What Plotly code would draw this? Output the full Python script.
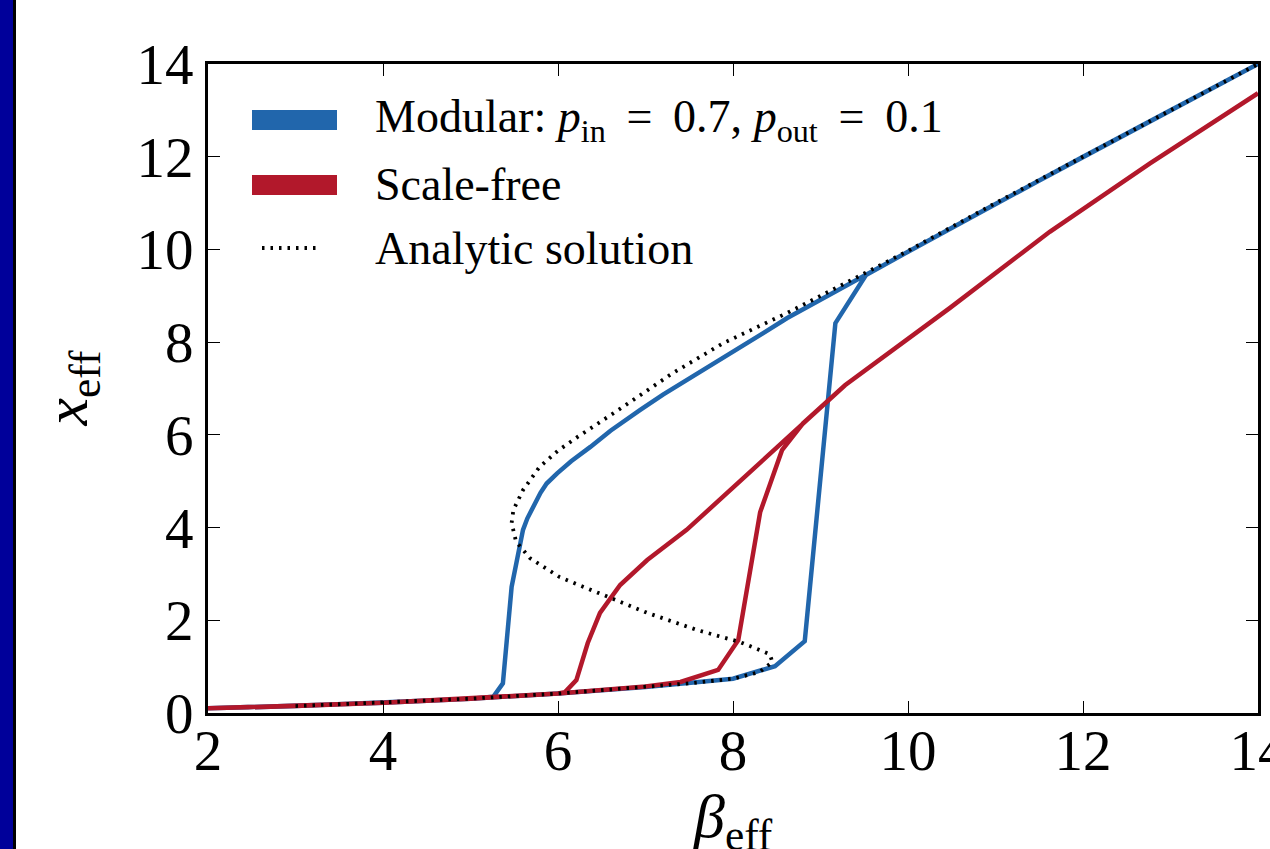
import plotly.graph_objects as go

# ---- data ----
# Modular network: forward sweep (increasing beta) then backward sweep
mod_fwd_beta = [2.0, 3.0, 4.0, 5.0, 6.0, 7.0, 7.5, 8.0, 8.48, 8.82, 9.17, 9.52, 10.0, 11.0, 12.0, 13.0, 14.0]
mod_fwd_x = [0.10, 0.15, 0.22, 0.31, 0.42, 0.56, 0.64, 0.74, 1.01, 1.55, 8.41, 9.45, 9.95, 10.98, 12.0, 13.0, 14.0]
mod_bwd_beta = [14.0, 13.0, 12.0, 11.0, 10.0, 9.52, 9.0, 8.62, 8.35, 8.08, 7.8, 7.51, 7.2, 6.94, 6.6, 6.37,
                6.15, 5.99, 5.87, 5.8, 5.71, 5.65, 5.6, 5.47, 5.37, 5.26, 5.0, 4.0, 3.0, 2.0]
mod_bwd_x = [14.0, 13.0, 12.0, 10.98, 9.95, 9.45, 8.9, 8.52, 8.2, 7.89, 7.58, 7.25, 6.87, 6.54, 6.09, 5.74,
             5.43, 5.17, 4.95, 4.75, 4.44, 4.2, 3.95, 2.72, 0.64, 0.35, 0.31, 0.22, 0.15, 0.10]

# Scale-free network
sf_fwd_beta = [2.0, 3.0, 4.0, 5.0, 6.0, 7.0, 7.4, 7.83, 8.06, 8.31, 8.56, 8.8, 9.28, 10.48, 11.62, 12.77, 14.0]
sf_fwd_x = [0.10, 0.15, 0.22, 0.31, 0.42, 0.57, 0.67, 0.93, 1.57, 4.33, 5.67, 6.25, 7.07, 8.74, 10.38, 11.86, 13.37]
sf_bwd_beta = [14.0, 12.77, 11.62, 10.48, 9.28, 8.8, 8.46, 8.0, 7.47, 7.02, 6.71, 6.48, 6.34, 6.21, 6.08, 6.0, 5.0, 4.0, 3.0, 2.0]
sf_bwd_x = [13.37, 11.86, 10.38, 8.74, 7.07, 6.25, 5.66, 4.87, 3.95, 3.30, 2.76, 2.16, 1.51, 0.71, 0.45, 0.42, 0.31, 0.22, 0.15, 0.10]

# Analytic solution (stable lower, unstable middle, stable upper branch)
an_beta = [3.0, 4.0, 5.0, 6.0, 7.0, 7.5, 8.0, 8.3, 8.45, 8.42, 8.08, 7.59, 7.02, 6.45, 6.02, 5.68,
           5.52, 5.47, 5.49, 5.6, 5.79, 6.0, 6.22, 6.74, 7.31, 7.89, 8.62, 9.52, 10.0, 11.0, 12.0, 13.0, 14.0]
an_x = [0.15, 0.22, 0.31, 0.42, 0.56, 0.64, 0.74, 0.88, 1.1, 1.27, 1.53, 1.79, 2.16, 2.59, 2.93, 3.34,
        3.7, 4.1, 4.38, 4.81, 5.31, 5.66, 5.95, 6.6, 7.33, 7.98, 8.63, 9.5, 9.97, 11.0, 12.0, 13.0, 14.0]

x_ticks = [2, 4, 6, 8, 10, 12, 14]
y_ticks = [0, 2, 4, 6, 8, 10, 12, 14]

SP = "\u2009"
legend_labels = ["Modular: <i>p</i><sub>in</sub> " + SP + "=" + SP + " 0.7, <i>p</i><sub>out</sub> " + SP + "=" + SP + " 0.1",
                 "Scale-free", "Analytic solution"]

BLUE = "#2166ac"
RED = "#b2182b"
FONT = "Liberation Serif"

fig = go.Figure()
fig.add_trace(go.Scatter(x=mod_fwd_beta + mod_bwd_beta, y=mod_fwd_x + mod_bwd_x, mode="lines",
                         line=dict(color=BLUE, width=4.5), name="Modular", showlegend=False))
fig.add_trace(go.Scatter(x=sf_fwd_beta + sf_bwd_beta, y=sf_fwd_x + sf_bwd_x, mode="lines",
                         line=dict(color=RED, width=4.5), name="Scale-free", showlegend=False))
fig.add_trace(go.Scatter(x=an_beta, y=an_x, mode="lines",
                         line=dict(color="black", width=3.8, dash="2.5px,6px"),
                         name="Analytic solution", showlegend=False))

# plot area geometry in pixels
L, R, T, B = 208, 1258, 64, 713
W, H = R - L, B - T

def px(xp):
    return (xp - L) / W

def py(yp):
    return (B - yp) / H

shapes = []
# dark blue bar at the left edge of the page
shapes.append(dict(type="rect", xref="paper", yref="paper", x0=px(-5), x1=px(13), y0=py(900), y1=py(-50),
                   fillcolor="#00009a", line=dict(width=0), layer="above"))
shapes.append(dict(type="rect", xref="paper", yref="paper", x0=px(13), x1=px(16), y0=py(900), y1=py(-50),
                   fillcolor="#000000", line=dict(width=0), layer="above"))
# custom legend samples
shapes.append(dict(type="line", xref="paper", yref="paper", x0=px(252), x1=px(337), y0=py(120), y1=py(120),
                   line=dict(color=BLUE, width=20)))
shapes.append(dict(type="line", xref="paper", yref="paper", x0=px(252), x1=px(337), y0=py(185), y1=py(185),
                   line=dict(color=RED, width=20)))
shapes.append(dict(type="line", xref="paper", yref="paper", x0=px(262), x1=px(320), y0=py(248), y1=py(248),
                   line=dict(color="black", width=3.8, dash="2.5px,6px")))

annotations = []
for lab, yc in zip(legend_labels, [120, 185, 248]):
    annotations.append(dict(text=lab, xref="paper", yref="paper", x=px(373), y=py(yc), xanchor="left",
                            yanchor="middle", showarrow=False, font=dict(family=FONT, size=46, color="black")))
# axis titles
annotations.append(dict(text="<i>x</i><sub>eff</sub>", xref="paper", yref="paper", x=px(70), y=0.5,
                        textangle=-90, xanchor="center", yanchor="middle", showarrow=False,
                        font=dict(family=FONT, size=62, color="black")))
annotations.append(dict(text="<i>β</i><sub>eff</sub>", xref="paper", yref="paper", x=0.5, y=py(780),
                        xanchor="center", yanchor="top", showarrow=False,
                        font=dict(family=FONT, size=62, color="black")))

axis_common = dict(showline=True, linecolor="black", linewidth=3, mirror="allticks", ticks="inside",
                   ticklen=12, tickwidth=1, tickcolor="black", showgrid=False, zeroline=False,
                   tickfont=dict(family=FONT, size=57, color="black"), automargin=False,
                   ticklabeloverflow="allow")

fig.update_layout(
    width=1270, height=849,
    margin=dict(l=L, r=1270 - R, t=T, b=849 - B, pad=0),
    paper_bgcolor="white", plot_bgcolor="white",
    xaxis=dict(range=[2, 14], tickvals=x_ticks, ticktext=[str(v) for v in x_ticks],
               ticklabelstandoff=-14, **axis_common),
    yaxis=dict(range=[0, 14], tickvals=y_ticks, ticktext=[str(v) for v in y_ticks],
               ticklabelstandoff=0, **axis_common),
    shapes=shapes, annotations=annotations, showlegend=False,
)

fig.write_html("out.html", config={"displayModeBar": False},
               post_script="document.body.style.margin='0px';document.body.style.overflow='hidden';")
